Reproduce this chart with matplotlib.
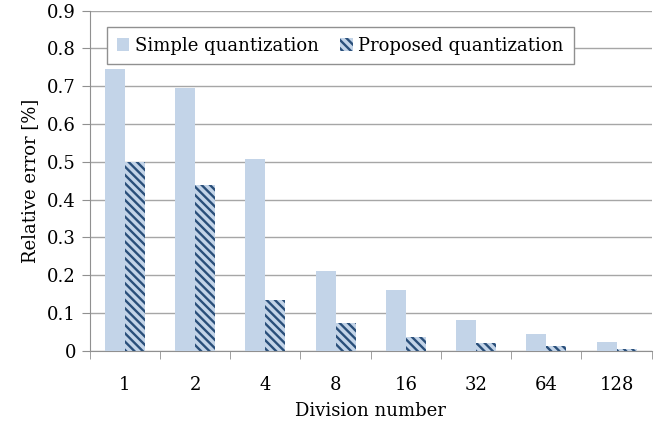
import numpy as np
import matplotlib.pyplot as plt
from matplotlib.ticker import FixedLocator

plt.rcParams['font.family'] = ['DejaVu Serif']
plt.rcParams['hatch.linewidth'] = 1.7

divisions = ['1', '2', '4', '8', '16', '32', '64', '128']
simple = [0.745, 0.695, 0.507, 0.212, 0.160, 0.080, 0.043, 0.022]
proposed = [0.500, 0.438, 0.133, 0.072, 0.036, 0.019, 0.012, 0.004]

fig, ax = plt.subplots(figsize=(6.65, 4.25), dpi=100)
fig.subplots_adjust(left=0.135, right=0.98, bottom=0.175, top=0.975)

x = np.arange(len(divisions))
w = 0.285
ax.bar(x - w / 2, simple, w, color='#c3d4e8', label='Simple quantization', zorder=3)
ax.bar(x + w / 2, proposed, w, color='#c3d4e8', hatch='\\\\\\\\', edgecolor='#2a4f7a',
       linewidth=0, label='Proposed quantization', zorder=3)

ax.set_xlim(-0.5, len(divisions) - 0.5)
ax.set_ylim(0, 0.9)
ax.set_yticks(np.arange(0, 0.91, 0.1))
ax.set_yticklabels(['0'] + ['%.1f' % v for v in np.arange(0.1, 0.91, 0.1)])
ax.set_xticks(x)
ax.set_xticklabels(divisions)
ax.xaxis.set_minor_locator(FixedLocator(np.arange(-0.5, len(divisions), 1.0)))
ax.tick_params(axis='x', which='major', length=0, pad=18, labelsize=13)
ax.tick_params(axis='x', which='minor', length=6, color='#909090', direction='out')
ax.tick_params(axis='y', length=6, color='#909090', labelsize=13, pad=4)

ax.grid(axis='y', color='#a6a6a6', linewidth=1, zorder=0)
for s in ['top', 'right']:
    ax.spines[s].set_visible(False)
for s in ['left', 'bottom']:
    ax.spines[s].set_color('#909090')

ax.set_xlabel('Division number', fontsize=13, labelpad=6)
ax.set_ylabel('Relative error [%]', fontsize=13, labelpad=6)

leg = ax.legend(loc='upper left', bbox_to_anchor=(0.03, 0.953), ncol=2, fontsize=13,
                frameon=True, fancybox=False, edgecolor='#909090', framealpha=1,
                handlelength=0.7, handleheight=0.7, handletextpad=0.3, columnspacing=1.2,
                borderpad=0.55, borderaxespad=0)
leg.get_frame().set_linewidth(1)

plt.savefig('out.png', dpi=100)
